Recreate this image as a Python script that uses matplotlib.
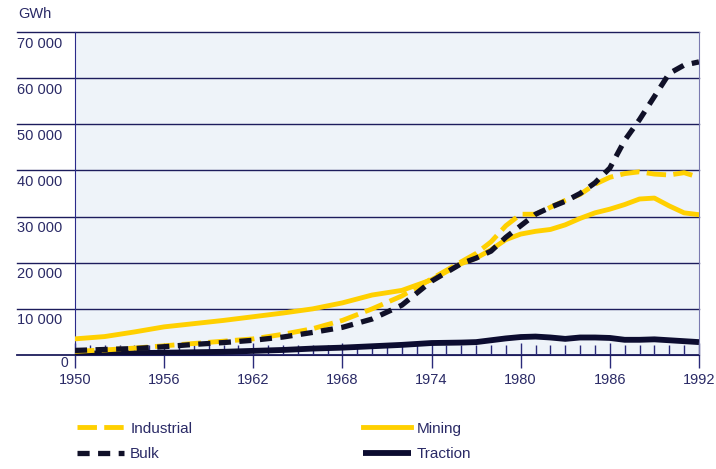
import matplotlib.pyplot as plt
from matplotlib.transforms import blended_transform_factory

years = [1950, 1952, 1954, 1956, 1958, 1960, 1962, 1964, 1966, 1968, 1970, 1972,
         1974, 1976, 1977, 1978, 1979, 1980, 1981, 1982, 1983, 1984, 1985, 1986,
         1987, 1988, 1989, 1990, 1991, 1992]

industrial = [800, 1100, 1500, 2000, 2500, 3000, 3500, 4500, 5700, 7500, 10000, 12800,
              16500, 20200, 22000, 24500, 28000, 30500, 30500, 32000, 33500, 34800, 37000, 38500,
              39300, 39700, 39200, 39000, 39500, 38500]
mining = [3500, 4000, 5000, 6100, 6800, 7500, 8300, 9100, 10000, 11300, 13000, 14000,
          16300, 19800, 21000, 22800, 25000, 26200, 26800, 27200, 28200, 29600, 30800, 31600,
          32600, 33800, 34000, 32300, 30800, 30400]
bulk = [1000, 1200, 1400, 1800, 2300, 2700, 3200, 3900, 4900, 6000, 7800, 10800,
        16000, 19800, 21000, 22500, 25500, 28000, 30500, 32000, 33300, 35000, 37300, 40500,
        46500, 51000, 56000, 61000, 62800, 63500]
traction = [300, 350, 400, 500, 600, 700, 900, 1100, 1400, 1600, 1900, 2200,
            2600, 2700, 2800, 3200, 3600, 3900, 4000, 3800, 3500, 3800, 3800, 3700,
            3300, 3300, 3400, 3200, 3000, 2800]

y_ticks = [10000, 20000, 30000, 40000, 50000, 60000, 70000]
x_ticks = [1950, 1956, 1962, 1968, 1974, 1980, 1986, 1992]

navy = "#1c1c5c"
yellow = "#ffd000"
text_col = "#2a2a66"

plt.rcParams["font.family"] = ["Liberation Sans", "DejaVu Sans"]

fig = plt.figure(figsize=(7.16, 4.69), dpi=100)
ax = fig.add_axes([0.1047, 0.243, 0.8715, 0.689])
ax.set_facecolor("#eef3f9")

ax.set_xlim(1950, 1992)
ax.set_ylim(0, 70000)

# gridlines running out to the left edge, like the original
trans = blended_transform_factory(ax.transAxes, ax.transData)
for v in [0] + y_ticks:
    ax.plot([-0.093, 1.0], [v, v], color=navy, lw=1.3 if v == 0 else 1.0,
            transform=trans, clip_on=False, zorder=1)
    if v:
        label = f"{v:,}".replace(",", " ")
        ax.text(-0.093, v - 1000, label, transform=trans, ha="left", va="top",
                fontsize=10.5, color=text_col)
ax.text(-0.011, -300, "0", transform=trans, ha="right", va="top",
        fontsize=10, color=text_col)
fig.text(0.025, 0.955, "GWh", fontsize=10.5, color=text_col, ha="left", va="bottom")

l_trac, = ax.plot(years, traction, color="#0c0c30", lw=4.2, solid_capstyle="butt", zorder=3)
l_min, = ax.plot(years, mining, color=yellow, lw=3.5, zorder=4)
l_ind, = ax.plot(years, industrial, color=yellow, lw=3.5, dashes=(4, 1.5), zorder=5)
l_bulk, = ax.plot(years, bulk, color="#101028", lw=3.8, dashes=(2.3, 1.6), zorder=6)

ax.set_yticks([])
ax.set_xticks(x_ticks)
ax.set_xticklabels([str(x) for x in x_ticks])
ax.set_xticks(range(1950, 1993), minor=True)
ax.tick_params(axis="x", which="major", direction="inout", length=18, width=1,
               color="#2a2a7a", labelsize=10.5, labelcolor=text_col, pad=4)
ax.tick_params(axis="x", which="minor", direction="in", length=7, width=1, color="#2a2a7a")

ax.spines["top"].set_visible(False)
ax.spines["left"].set_color("#2a2a8a")
ax.spines["right"].set_color("#7a7ab0")
ax.spines["bottom"].set_color(navy)

leg_kw = dict(frameon=False, fontsize=11, handlelength=3.1, handletextpad=0.4,
              labelspacing=0.75, labelcolor=text_col)
fig.legend([l_ind, l_bulk], ["Industrial", "Bulk"], loc="upper left",
           bbox_to_anchor=(0.088, 0.13), **leg_kw)
fig.legend([l_min, l_trac], ["Mining", "Traction"], loc="upper left",
           bbox_to_anchor=(0.488, 0.13), **leg_kw)

fig.savefig("out.png", dpi=100)
